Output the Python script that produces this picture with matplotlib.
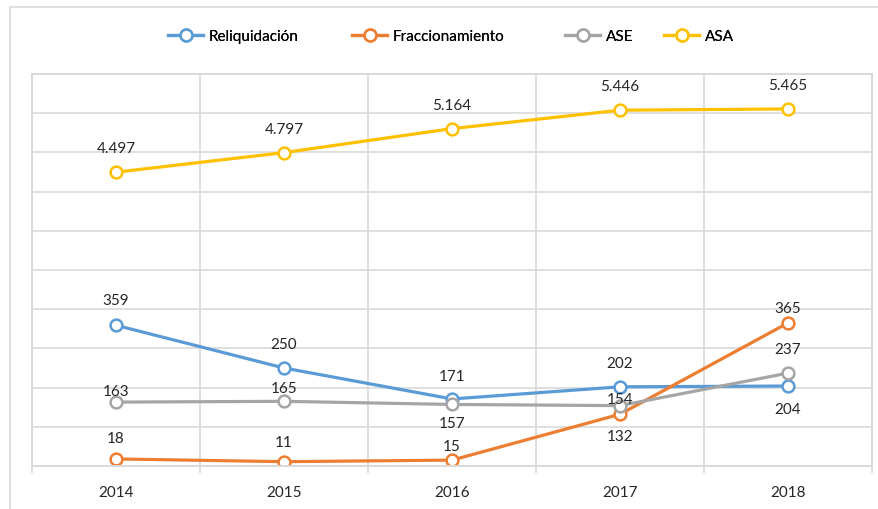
import matplotlib

matplotlib.use("Agg")
import matplotlib.pyplot as plt
from matplotlib.patches import Rectangle

plt.rcParams["font.family"] = ["Lato", "DejaVu Sans"]

years = ["2014", "2015", "2016", "2017", "2018"]
reliquidacion = [359, 250, 171, 202, 204]
fraccionamiento = [18, 11, 15, 132, 365]
ase = [163, 165, 157, 154, 237]
asa = [4497, 4797, 5164, 5446, 5465]

# label offsets in pixels (dy), per point; positive = above
label_dy = {
    "Reliquidación": [25, 24, 23, 24, -23],
    "Fraccionamiento": [21, 20, 14, -22, 15],
    "ASE": [11, 13, -19, 7, 24],
    "ASA": [24, 24, 24, 24, 24],
}

C_BLUE = "#5B9BD5"
C_ORANGE = "#ED7D31"
C_GRAY = "#A5A5A5"
C_YELLOW = "#FFC000"
GRID = "#D9D9D9"

W, H = 879, 510
fig = plt.figure(figsize=(W / 100, H / 100), dpi=100)
fig.patches.append(Rectangle((10 / W, -0.1), 1.2, 1 - 8 / H + 0.1, transform=fig.transFigure,
                             fill=False, edgecolor=GRID, linewidth=1.2, zorder=0))

ax = fig.add_axes([32 / W, 1 - 467 / H, (872 - 32) / W, (467 - 75) / H])
ax2 = ax.twinx()

x = list(range(len(years)))
line_kw = dict(linewidth=2.3, marker="o", markersize=8.5, markerfacecolor="white",
               markeredgewidth=1.8)


def draw(axis, vals, color, name, fmt):
    (h,) = axis.plot(x, vals, color=color, label=name, **line_kw)
    for xi, v, dy in zip(x, vals, label_dy[name]):
        axis.annotate(fmt(v), (xi, v), xytext=(0, dy * 0.72), textcoords="offset points",
                      ha="center", va="center", fontsize=11, color="#262626")
    return h


def thousands(v):
    return f"{v:,}".replace(",", ".")


h1 = draw(ax, reliquidacion, C_BLUE, "Reliquidación", str)
h2 = draw(ax, fraccionamiento, C_ORANGE, "Fraccionamiento", str)
h3 = draw(ax, ase, C_GRAY, "ASE", str)
h4 = draw(ax2, asa, C_YELLOW, "ASA", thousands)

ax.set_xlim(-0.5, len(years) - 0.5)
ax.set_ylim(0, 1000)
ax2.set_ylim(0, 6000)
ax.set_yticks(range(0, 1001, 100))
ax.set_yticklabels([])
ax.tick_params(axis="y", length=0)
ax2.set_yticks([])
ax.set_xticks(x)
ax.set_xticklabels(years, fontsize=11, color="#262626")
ax.set_xticks([i - 0.5 for i in range(len(years) + 1)], minor=True)
ax.tick_params(axis="x", which="major", length=0, pad=14)
ax.tick_params(axis="x", which="minor", length=5, color=GRID, width=1.2)
ax.grid(True, axis="y", which="major", color=GRID, linewidth=1.2)
ax.grid(True, axis="x", which="minor", color=GRID, linewidth=1.2)
for a in (ax, ax2):
    for s in a.spines.values():
        s.set_color(GRID)
        s.set_linewidth(1.2)
ax.set_axisbelow(True)

# legend entries placed individually (uneven spacing as in the original)
for h, xpos in zip([h1, h2, h3, h4], [168, 352, 565, 664]):
    leg = fig.legend(handles=[h], loc="center left", bbox_to_anchor=(xpos / W, 1 - 37 / H),
                     frameon=False, fontsize=11, handlelength=2.3, handletextpad=0.35,
                     borderpad=0, borderaxespad=0)
    fig.add_artist(leg)

fig.savefig("out.png", dpi=100)
